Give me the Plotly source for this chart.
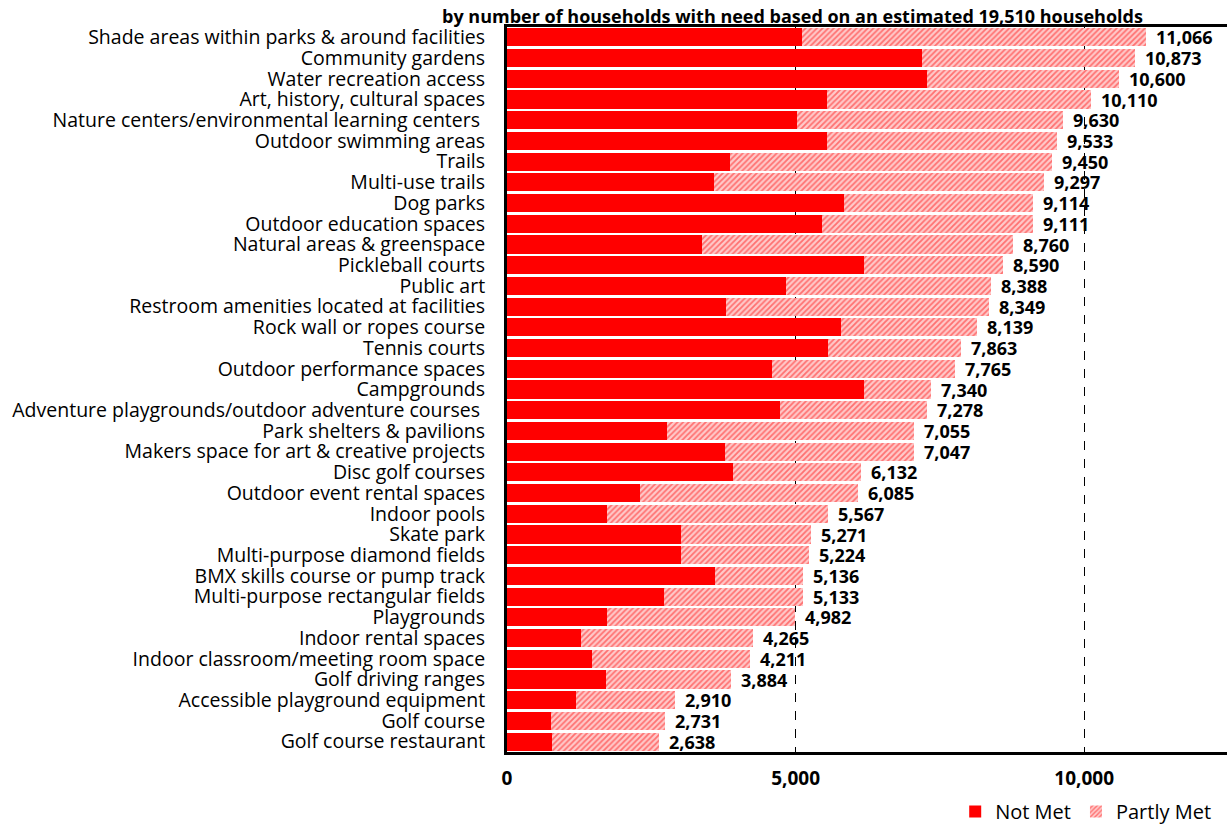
import plotly.graph_objects as go

# Amenity categories, top to bottom
categories = [
    "Shade areas within parks & around facilities",
    "Community gardens",
    "Water recreation access",
    "Art, history, cultural spaces",
    "Nature centers/environmental learning centers ",
    "Outdoor swimming areas",
    "Trails",
    "Multi-use trails",
    "Dog parks",
    "Outdoor education spaces",
    "Natural areas & greenspace",
    "Pickleball courts",
    "Public art",
    "Restroom amenities located at facilities",
    "Rock wall or ropes course",
    "Tennis courts",
    "Outdoor performance spaces",
    "Campgrounds",
    "Adventure playgrounds/outdoor adventure courses ",
    "Park shelters & pavilions",
    "Makers space for art & creative projects",
    "Disc golf courses",
    "Outdoor event rental spaces",
    "Indoor pools",
    "Skate park",
    "Multi-purpose diamond fields",
    "BMX skills course or pump track",
    "Multi-purpose rectangular fields",
    "Playgrounds",
    "Indoor rental spaces",
    "Indoor classroom/meeting room space",
    "Golf driving ranges",
    "Accessible playground equipment",
    "Golf course",
    "Golf course restaurant",
]

# Households with need (total = Not Met + Partly Met)
total_need = [
    11066, 10873, 10600, 10110, 9630, 9533, 9450, 9297, 9114, 9111,
    8760, 8590, 8388, 8349, 8139, 7863, 7765, 7340, 7278, 7055,
    7047, 6132, 6085, 5567, 5271, 5224, 5136, 5133, 4982, 4265,
    4211, 3884, 2910, 2731, 2638,
]

not_met = [
    5116, 7185, 7284, 5546, 5024, 5549, 3869, 3592, 5844, 5463,
    3384, 6190, 4839, 3800, 5792, 5567, 4597, 6190, 4735, 2778,
    3782, 3921, 2310, 1738, 3020, 3020, 3609, 2725, 1738, 1287,
    1478, 1720, 1201, 768, 785,
]

partly_met = [t - n for t, n in zip(total_need, not_met)]

x_ticks = [0, 5000, 10000]
x_tick_text = ["0", "5,000", "10,000"]

title_text = "by number of households with need based on an estimated 19,510 households"

FONT = "Open Sans, sans-serif"

fig = go.Figure()

fig.add_trace(go.Bar(
    y=categories, x=not_met, orientation="h", name="Not Met",
    marker=dict(color="#ff0000", line=dict(width=0)),
))

fig.add_trace(go.Bar(
    y=categories, x=partly_met, orientation="h", name="Partly Met",
    marker=dict(
        color="#ffc4c4",
        line=dict(width=0),
        pattern=dict(shape="/", fgcolor="#ff7070", bgcolor="#ffcaca",
                     size=4, solidity=0.45, fillmode="replace"),
    ),
))

# Total labels just past the end of each stacked bar
for cat, tot in zip(categories, total_need):
    fig.add_annotation(
        x=tot, y=cat, xref="x", yref="y", text=f"<b>{tot:,}</b>",
        xanchor="left", yanchor="middle", xshift=8, showarrow=False,
        font=dict(family=FONT, size=18, color="black"),
    )

fig.add_annotation(
    text=f"<b>{title_text}</b>", xref="paper", yref="paper",
    x=0.397, y=1.0, xanchor="center", yanchor="bottom", yshift=-3,
    showarrow=False, font=dict(family=FONT, size=18, color="black"),
)

fig.update_layout(
    width=1227, height=824,
    margin=dict(l=507, r=0, t=27, b=72, autoexpand=False),
    barmode="stack", bargap=0.13,
    plot_bgcolor="white", paper_bgcolor="white",
    font=dict(family=FONT, size=18, color="black"),
    legend=dict(
        orientation="h", x=0.985, xanchor="right", y=-0.055, yanchor="top",
        font=dict(family=FONT, size=20), traceorder="normal",
        itemwidth=30,
    ),
    xaxis=dict(
        range=[0, 12475], tickvals=x_ticks, ticktext=x_tick_text,
        tickfont=dict(family=FONT, size=19, color="black", weight="bold"),
        showgrid=True, gridcolor="black", griddash="dash", gridwidth=1,
        zeroline=False, showline=True, linecolor="black", linewidth=3,
        mirror=True, ticks="", ticklabelstandoff=7,
    ),
    yaxis=dict(
        categoryorder="array", categoryarray=categories,
        range=[len(categories) - 0.5, -0.5],
        tickmode="array", tickvals=categories, ticktext=categories,
        showline=True, linecolor="black", linewidth=3, mirror=True,
        ticks="", ticklabelstandoff=15,
        tickfont=dict(family=FONT, size=19.5, color="black"),
        showgrid=False,
    ),
)

fig.write_html("out.html")
